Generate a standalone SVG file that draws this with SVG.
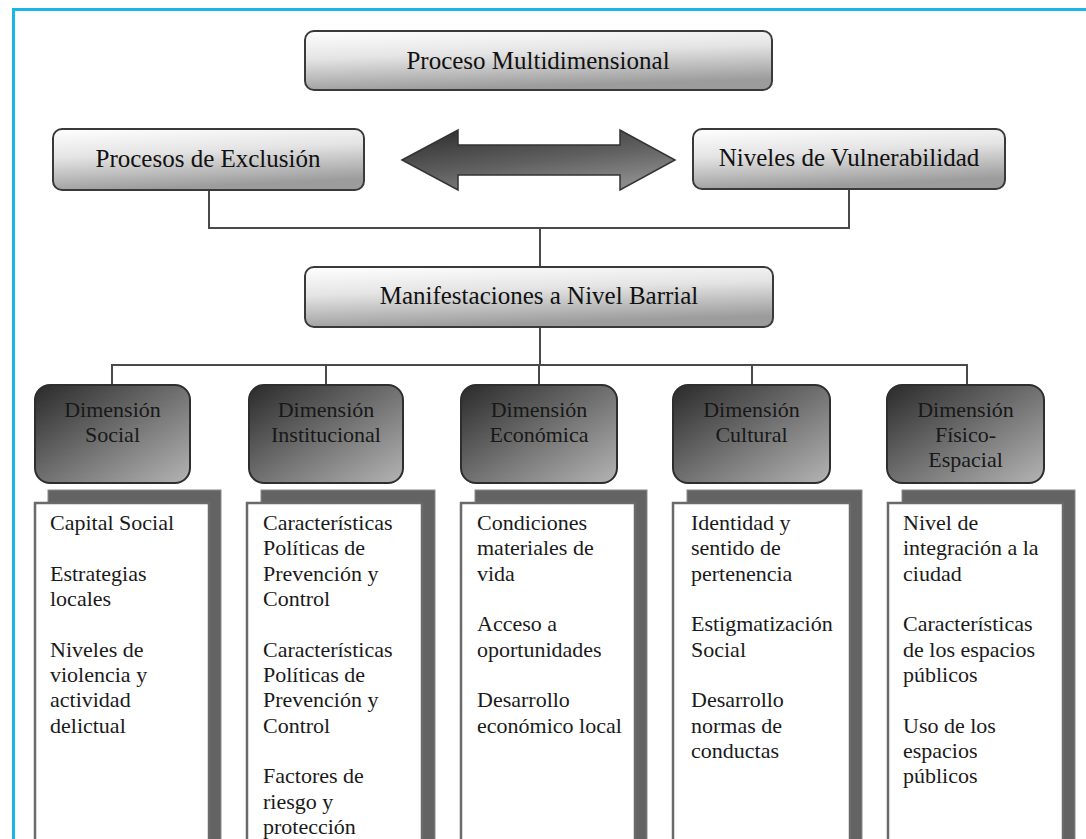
<svg xmlns="http://www.w3.org/2000/svg" width="1086" height="839" viewBox="0 0 1086 839">
  <defs>
    <!-- light header boxes: white fading to mid grey -->
    <linearGradient id="gLight" x1="0" y1="0" x2="0.25" y2="1">
      <stop offset="0" stop-color="#ffffff"/>
      <stop offset="0.45" stop-color="#e4e4e4"/>
      <stop offset="1" stop-color="#9c9c9c"/>
    </linearGradient>
    <!-- dark dimension boxes: dark top-left to light grey bottom-right -->
    <linearGradient id="gDark" x1="0" y1="0" x2="1" y2="1">
      <stop offset="0" stop-color="#2a2a2a"/>
      <stop offset="0.55" stop-color="#777777"/>
      <stop offset="1" stop-color="#b4b4b4"/>
    </linearGradient>
    <!-- double arrow fill -->
    <linearGradient id="gArrow" x1="0" y1="0" x2="0.6" y2="1">
      <stop offset="0" stop-color="#2c2c2c"/>
      <stop offset="0.6" stop-color="#606060"/>
      <stop offset="1" stop-color="#8a8a8a"/>
    </linearGradient>
    <style>
      .head { fill: url(#gLight); stroke: #3a3a3a; stroke-width: 2; }
      .dim { fill: url(#gDark); stroke: #2e2e2e; stroke-width: 2; }
      .shadow { fill: #636363; stroke: #8a8a8a; stroke-width: 1; }
      .card { fill: #ffffff; stroke: #6a6a6a; stroke-width: 2.5; }
      .conn { fill: none; stroke: #4a4a4a; stroke-width: 2; }
      .ht { font-family: "Liberation Serif", "Times New Roman", serif; font-size: 25px; fill: #111111; text-anchor: middle; }
      .dt { font-family: "Liberation Serif", "Times New Roman", serif; font-size: 22px; fill: #181818; text-anchor: middle; }
      .bt { font-family: "Liberation Serif", "Times New Roman", serif; font-size: 22px; fill: #1a1a1a; }
    </style>
  </defs>

  <rect x="0" y="0" width="1086" height="839" fill="#ffffff"/>

  <!-- blue frame (top and left edges) -->
  <path d="M13.5 839 V9.5 H1086" fill="none" stroke="#19b6e6" stroke-width="3"/>

  <!-- connectors -->
  <g id="connectors">
    <path class="conn" d="M209 190 V228 H849 V189"/>
    <path class="conn" d="M540 228 V267"/>
    <path class="conn" d="M540 327 V365"/>
    <path class="conn" d="M112 385 V365 H967 V385"/>
    <path class="conn" d="M326 365 V385"/>
    <path class="conn" d="M539 365 V385"/>
    <path class="conn" d="M752 365 V385"/>
    <polygon id="double-arrow" points="402,160 458,130 458,145 620,145 620,130 675,160 620,190 620,175 458,175 458,190" fill="url(#gArrow)" stroke="#333333" stroke-width="1.5" stroke-linejoin="miter"/>
  </g>

  <!-- top level -->
  <g id="proceso-multidimensional">
    <rect class="head" x="305" y="31" width="467" height="59" rx="9"/>
    <text class="ht" x="538" y="69">Proceso Multidimensional</text>
  </g>
  <g id="procesos-exclusion">
    <rect class="head" x="53" y="129" width="311" height="61" rx="9"/>
    <text class="ht" x="208" y="167">Procesos de Exclusión</text>
  </g>
  <g id="niveles-vulnerabilidad">
    <rect class="head" x="693" y="129" width="312" height="60" rx="9"/>
    <text class="ht" x="849" y="166">Niveles de Vulnerabilidad</text>
  </g>
  <g id="manifestaciones">
    <rect class="head" x="305" y="267" width="468" height="60" rx="9"/>
    <text class="ht" x="539" y="304">Manifestaciones a Nivel Barrial</text>
  </g>

  <!-- dimensions -->
  <g id="dim-social">
    <rect class="dim" x="35" y="385" width="155" height="98" rx="15"/>
    <text class="dt" x="112.5" y="417">Dimensión</text>
    <text class="dt" x="112.5" y="442">Social</text>
  </g>
  <g id="dim-institucional">
    <rect class="dim" x="249" y="385" width="154" height="98" rx="15"/>
    <text class="dt" x="326" y="417">Dimensión</text>
    <text class="dt" x="326" y="442">Institucional</text>
  </g>
  <g id="dim-economica">
    <rect class="dim" x="461" y="385" width="156" height="98" rx="15"/>
    <text class="dt" x="539" y="417">Dimensión</text>
    <text class="dt" x="539" y="442">Económica</text>
  </g>
  <g id="dim-cultural">
    <rect class="dim" x="673" y="385" width="157" height="98" rx="15"/>
    <text class="dt" x="751.5" y="417">Dimensión</text>
    <text class="dt" x="751.5" y="442">Cultural</text>
  </g>
  <g id="dim-fisico">
    <rect class="dim" x="887" y="385" width="157" height="98" rx="15"/>
    <text class="dt" x="965.5" y="417">Dimensión</text>
    <text class="dt" x="965.5" y="442">Físico-</text>
    <text class="dt" x="965.5" y="467">Espacial</text>
  </g>

  <!-- detail cards -->
  <g id="card-social">
    <rect class="shadow" x="48" y="490" width="173" height="370"/>
    <rect class="card" x="35" y="503" width="174" height="360"/>
    <text class="bt" x="50" y="530">Capital Social</text>
    <text class="bt" x="50" y="581">Estrategias</text>
    <text class="bt" x="50" y="606">locales</text>
    <text class="bt" x="50" y="657">Niveles de</text>
    <text class="bt" x="50" y="682">violencia y</text>
    <text class="bt" x="50" y="707">actividad</text>
    <text class="bt" x="50" y="733">delictual</text>
  </g>
  <g id="card-institucional">
    <rect class="shadow" x="261" y="490" width="174" height="370"/>
    <rect class="card" x="247" y="503" width="175" height="360"/>
    <text class="bt" x="263" y="530">Características</text>
    <text class="bt" x="263" y="555">Políticas de</text>
    <text class="bt" x="263" y="581">Prevención y</text>
    <text class="bt" x="263" y="606">Control</text>
    <text class="bt" x="263" y="657">Características</text>
    <text class="bt" x="263" y="682">Políticas de</text>
    <text class="bt" x="263" y="707">Prevención y</text>
    <text class="bt" x="263" y="733">Control</text>
    <text class="bt" x="263" y="783">Factores de</text>
    <text class="bt" x="263" y="809">riesgo y</text>
    <text class="bt" x="263" y="834">protección</text>
  </g>
  <g id="card-economica">
    <rect class="shadow" x="475" y="490" width="172" height="370"/>
    <rect class="card" x="461" y="503" width="174" height="360"/>
    <text class="bt" x="477" y="530">Condiciones</text>
    <text class="bt" x="477" y="555">materiales de</text>
    <text class="bt" x="477" y="581">vida</text>
    <text class="bt" x="477" y="631">Acceso a</text>
    <text class="bt" x="477" y="657">oportunidades</text>
    <text class="bt" x="477" y="707">Desarrollo</text>
    <text class="bt" x="477" y="733">económico local</text>
  </g>
  <g id="card-cultural">
    <rect class="shadow" x="687" y="490" width="175" height="370"/>
    <rect class="card" x="673" y="503" width="177" height="360"/>
    <text class="bt" x="691" y="530">Identidad y</text>
    <text class="bt" x="691" y="555">sentido de</text>
    <text class="bt" x="691" y="581">pertenencia</text>
    <text class="bt" x="691" y="631">Estigmatización</text>
    <text class="bt" x="691" y="657">Social</text>
    <text class="bt" x="691" y="707">Desarrollo</text>
    <text class="bt" x="691" y="733">normas de</text>
    <text class="bt" x="691" y="758">conductas</text>
  </g>
  <g id="card-fisico">
    <rect class="shadow" x="902" y="490" width="173" height="370"/>
    <rect class="card" x="888" y="503" width="175" height="360"/>
    <text class="bt" x="903" y="530">Nivel de</text>
    <text class="bt" x="903" y="555">integración a la</text>
    <text class="bt" x="903" y="581">ciudad</text>
    <text class="bt" x="903" y="631">Características</text>
    <text class="bt" x="903" y="657">de los espacios</text>
    <text class="bt" x="903" y="682">públicos</text>
    <text class="bt" x="903" y="733">Uso de los</text>
    <text class="bt" x="903" y="758">espacios</text>
    <text class="bt" x="903" y="783">públicos</text>
  </g>
</svg>
